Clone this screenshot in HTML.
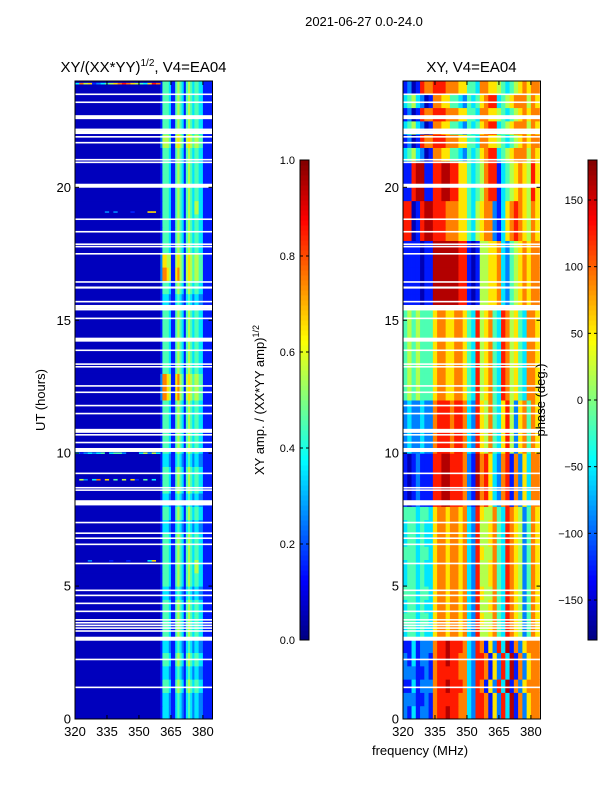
<!DOCTYPE html>
<html><head><meta charset="utf-8">
<style>
html,body{margin:0;padding:0;background:#fff;}
svg{display:block;font-family:"Liberation Sans",sans-serif;}
</style></head>
<body>
<svg id="fig" width="600" height="800" viewBox="0 0 600 800">
  <text x="364" y="26" font-size="13" text-anchor="middle">2021-06-27 0.0-24.0</text>
  <g id="ampPanel"></g>
  <g id="phasePanel"></g>
  <g id="cbars"></g>
  <text x="143.5" y="72" font-size="15" text-anchor="middle">XY/(XX*YY)<tspan font-size="10" dy="-6">1/2</tspan><tspan dy="6">, V4=EA04</tspan></text>
  <text x="471.5" y="72" font-size="15" text-anchor="middle">XY, V4=EA04</text>
  <text transform="translate(45,400) rotate(-90)" font-size="13" text-anchor="middle">UT (hours)</text>
  <text x="420" y="755" font-size="13" text-anchor="middle">frequency (MHz)</text>
  <text transform="translate(264,400) rotate(-90)" font-size="13" text-anchor="middle">XY amp. / (XX*YY amp)<tspan font-size="9" dy="-5">1/2</tspan></text>
  <text transform="translate(545,400) rotate(-90)" font-size="13" text-anchor="middle">phase (deg.)</text>
</svg>
<script>
// ---- data ----
const yTicks = [0, 5, 10, 15, 20];
const xTicks = [320, 335, 350, 365, 380];
const ampCbTicks = [0.0, 0.2, 0.4, 0.6, 0.8, 1.0];
const phaseCbTicks = [-150, -100, -50, 0, 50, 100, 150];
// amplitude: left region (320-360 MHz) level per half-hour row, digits /10
const ampLeft = "000000000000000000000000000000000000000000000000";
// amplitude: 1 MHz columns 360..384, per half-hour row (row 0 = 0-0.5 h)
const ampRows = [
"1333211343213432332211111","1333211343213432332211111","1444311454314543443311111","1333211343213432332211111",
"1444311454314543443311111","1333211343213432332211111","1444311454314543443311111","1444311454314543443311111",
"1444311454314543443311111","1333211343213432332211111","1444311454314543443311111","1444311454314543553311111",
"1444311454314543443311111","1444311454314543443311111","1333211343213432332211111","1444311454314543443311111",
"1333211343213432332211111","1444311454314543443311111","1444311454314543443311111","1333211343213432332211111",
"1444311454314543443311111","1444311454314543443311111","1444311454314543443311111","1444311454314543443311111",
"2776511675415654554411111","2776511675415654554411111","1444311454314543443311111","1444311454314543443311111",
"1444311454314543443311111","1444311454314543443311111","1444311454314543443311111","1333211343213432332211111",
"1444311454314543443311111","2776511675415654554411111","2665511565415654554411111","1444311454314543443311111",
"1444311454314543443311111","1444311454314543443311111","1444311454314543553311111","1444311454314543443311111",
"1444311454314543443311111","1444311454314543443311111","1444311454314543443311111","2555411565415654554411111",
"1444311454314543443311111","1444311454314543443311111","1444311454314543443311111","1444311454314543443311111"];
// amplitude spikes (hours) with 2 MHz digits over 320-360
const spikeHours = [23.9, 19.07, 10.0, 9.0, 5.95];
const spikeVals = ["37561234567876543687","00000002020001000660","31232340344200035253","05203706040506104030","00020000100010000360"];
// phase: 2 MHz columns 320..384, digits 0..9 -> -180..180
const phaseRows = [
"21312217889887732887162839172677","22211217888887732887162839172677","11312227889888732871628391726777","22211217888887732887162839172677",
"21312217889887732887162839172677","11312227889888732871628391726777",
"34434336776776732855674387652476","44434436776776732865574387652476","34434336776776732855674387652476","44434436776776732865574387652476",
"34434336776776732855674387652476","34434336776776732855674387652476","44434436776776732865574387652476","34434336776776732855674387652476",
"34434336776776732855674387652476","44434436776776732865574387652476",
"10121118899888721978632781726377","10121118899888721978632781726377","10121118899888721978632781726377","10121118899888721978632781726377",
"23223227888788732865743685267476","23223227888788732865743685267476","23223227888788732865743685267476","23223227888788732865743685267476",
"45454446776677643856743875643776","45454446776677643856743875643776","45454446776677643856743875643776","45454446776677643856743875643776",
"45454446776677643856743875643776","45454446776677643856743875643776","45454446776677643856743875643776",
"11110119999998810155667324567677","11110119999998810155667324567677","11110119999998810155667324567677","11110119999998810155667324567677",
"11110119999998810155667324567677",
"88018998887776643567721367876576","88018998887776643567721367876576","88018998887776643567721367876576",
"11899118899886643457881345676586","11899118899886643457881345676586","11899118899886643457881345676586",
"34532017766443243467883456777576","12018778887776644377665434567677","34532017766443243467883456777576","12018778887776644377665434567677",
"34532017766443243467883456777576","12018778887776644377665434567677"];
// masked (flagged) time rows
const gapHours = [23.5,23.2,22.64,22.18,22.08,21.9,21.68,21.04,20.94,20.06,18.8,18.33,17.86,17.77,17.5,16.44,16.23,15.7,15.5,15.4,15.07,14.27,13.87,13.35,13.25,12.53,12.29,11.79,11.49,10.84,10.69,10.4,10.12,9.24,8.7,8.61,8.2,8.11,7.39,6.99,6.8,6.57,5.85,4.84,4.65,4.35,4.05,3.73,3.62,3.52,3.42,3.31,3.02,2.24,1.19];
const gapWidths = [0.06,0.06,0.15,0.06,0.15,0.06,0.06,0.06,0.06,0.15,0.06,0.06,0.06,0.06,0.06,0.06,0.08,0.06,0.15,0.06,0.06,0.15,0.06,0.06,0.06,0.06,0.06,0.06,0.06,0.15,0.06,0.06,0.15,0.06,0.06,0.06,0.06,0.15,0.06,0.06,0.06,0.06,0.06,0.06,0.06,0.06,0.06,0.06,0.06,0.06,0.06,0.06,0.15,0.06,0.06];

// ---- helpers ----
const NS = "http://www.w3.org/2000/svg";
function jet(v){
  v = Math.max(0, Math.min(1, v));
  const f = t => Math.round(255*Math.max(0, Math.min(1, t)));
  const r = f(Math.min(4*v-1.5, -4*v+4.5));
  const g = f(Math.min(4*v-0.5, -4*v+3.5));
  const b = f(Math.min(4*v+0.5, -4*v+2.5));
  return "rgb("+r+","+g+","+b+")";
}
function mk(tag, attrs, parent){
  const el = document.createElementNS(NS, tag);
  for (const k in attrs) el.setAttribute(k, attrs[k]);
  parent.appendChild(el);
  return el;
}
const Y0 = 719, Y1 = 81;
const yScale = h => Y0 - (h/24)*(Y0-Y1);
const FMIN = 320, FMAX = 384.5;
function xScaleFor(x0, x1){ return f => x0 + (f-FMIN)/(FMAX-FMIN)*(x1-x0); }

function drawAxes(g, x0, x1, xs){
  for (const t of yTicks){
    const y = yScale(t);
    const l1 = mk("line", {x1:x0, x2:x0+4, y1:y, y2:y, stroke:"#000"}, g);
    
    
    mk("line", {x1:x1, x2:x1-4, y1:y, y2:y, stroke:"#000"}, g);
    const tx = mk("text", {x:x0-4, y:y+4.5, "font-size":13, "text-anchor":"end"}, g);
    tx.textContent = t;
    
    
  }
  for (const t of xTicks){
    const x = xs(t);
    const l = mk("line", {x1:x, x2:x, y1:Y0, y2:Y0-4, stroke:"#000"}, g);
    
    
    mk("line", {x1:x, x2:x, y1:Y1, y2:Y1+4, stroke:"#000"}, g);
    const tx = mk("text", {x:x, y:Y0+17, "font-size":13, "text-anchor":"middle"}, g);
    tx.textContent = t;
    
    
  }
  const fr = mk("rect", {x:x0, y:Y1, width:x1-x0, height:Y0-Y1, fill:"none", stroke:"#000", "stroke-width":1}, g);
  
  
}
function drawGaps(g, x0, x1){
  gapHours.forEach((h, i) => {
    const yt = yScale(h + gapWidths[i]/2), yb = yScale(h - gapWidths[i]/2);
    const r = mk("rect", {x:x0, y:yt, width:x1-x0, height:Math.max(1.2, yb-yt), fill:"#fff"}, g);
    
    
  });
}

// ---- amplitude panel ----
(function(){
  const g = document.getElementById("ampPanel");
  const x0 = 75, x1 = 212.5, xs = xScaleFor(x0, x1);
  const rowH = 24/ampRows.length;
  ampRows.forEach((row, i) => {
    const yt = yScale((i+1)*rowH), yb = yScale(i*rowH);
    const lv = +ampLeft[i]/10 + 0.06;
    const c0 = mk("rect", {x:xs(320), y:yt, width:xs(360)-xs(320)+0.5, height:yb-yt+0.5, fill:jet(lv)}, g);
    
    
    for (let k = 0; k < row.length; k++){
      const fa = 360 + k, fb = Math.min(FMAX, fa+1);
      const c = mk("rect", {x:xs(fa), y:yt, width:xs(fb)-xs(fa)+0.4, height:yb-yt+0.5, fill:jet(+row[k]/10 + 0.05)}, g);
      
      
    }
  });
  spikeHours.forEach((h, i) => {
    const s = spikeVals[i];
    for (let k = 0; k < s.length; k++){
      const fa = 320 + 2*k;
      const r = mk("rect", {x:xs(fa), y:yScale(h)-0.8, width:xs(fa+2)-xs(fa)+0.3, height:1.6, fill:jet(+s[k]/10+0.06)}, g);
      
      
    }
  });
  drawGaps(g, x0, x1);
  drawAxes(g, x0, x1, xs);
})();

// ---- phase panel ----
(function(){
  const g = document.getElementById("phasePanel");
  const x0 = 403, x1 = 540.5, xs = xScaleFor(x0, x1);
  const rowH = 24/phaseRows.length;
  phaseRows.forEach((row, i) => {
    const yt = yScale((i+1)*rowH), yb = yScale(i*rowH);
    for (let k = 0; k < row.length; k++){
      const fa = 320 + 2*k, fb = Math.min(FMAX, fa+2);
      if (fa >= FMAX) break;
      const ph = -180 + (+row[k] + 0.5)*36;
      const c = mk("rect", {x:xs(fa), y:yt, width:xs(fb)-xs(fa)+0.4, height:yb-yt+0.5, fill:jet((ph+180)/360)}, g);
      
      
    }
  });
  drawGaps(g, x0, x1);
  drawAxes(g, x0, x1, xs);
})();

// ---- colorbars ----
(function(){
  const g = document.getElementById("cbars");
  function bar(x, lo, hi, ticks, name){
    const top = 160, bot = 640, n = 96;
    for (let i = 0; i < n; i++){
      const y = bot - (i+1)*(bot-top)/n;
      const r = mk("rect", {x:x, y:y, width:9, height:(bot-top)/n+0.5, fill:jet((i+0.5)/n)}, g);
      
      
    }
    mk("rect", {x:x, y:top, width:9, height:bot-top, fill:"none", stroke:"#000"}, g);
    ticks.forEach(t => {
      const y = bot - (t-lo)/(hi-lo)*(bot-top);
      mk("line", {x1:x, x2:x+3, y1:y, y2:y, stroke:"#000"}, g);
      mk("line", {x1:x+9, x2:x+6, y1:y, y2:y, stroke:"#000"}, g);
      const tx = mk("text", {x:x-5, y:y+4, "font-size":11, "text-anchor":"end"}, g);
      tx.textContent = (name === 'amp-colorbar') ? t.toFixed(1) : (t < 0 ? "\u2212" + (-t) : t);
      
      
    });
  }
  bar(300, 0, 1, ampCbTicks, 'amp-colorbar');
  bar(588, -180, 180, phaseCbTicks, 'phase-colorbar');
})();
</script>
</body></html>
